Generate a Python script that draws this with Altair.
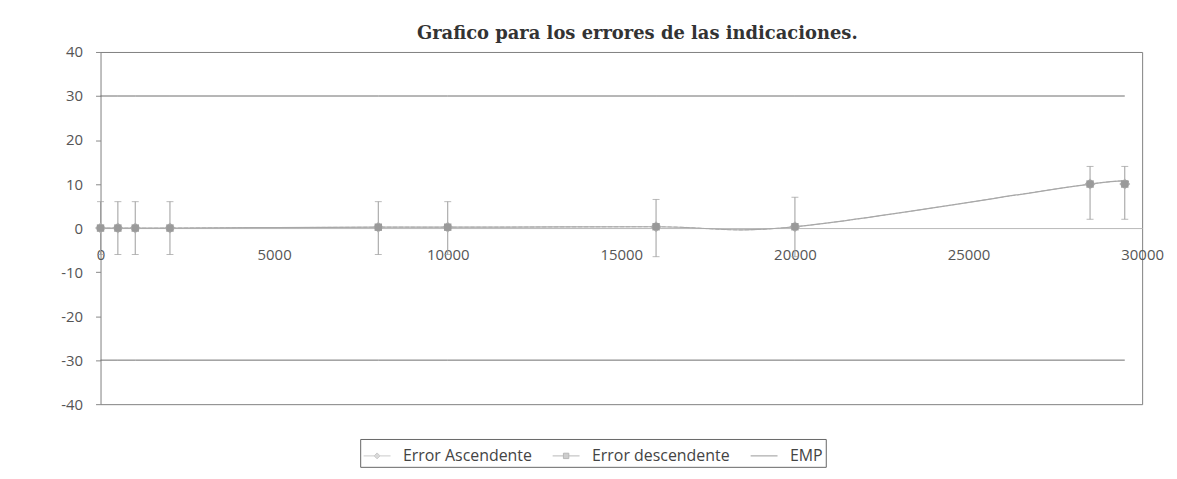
import altair as alt
import pandas as pd

# ---- data ----
loads = [0, 500, 1000, 2000, 8000, 10000, 16000, 20000, 28500, 29500]
err_asc = [0, 0, 0, 0, 0.2, 0.2, 0.3, 0.3, 10, 10]
err_desc = [0, 0, 0, 0, 0.2, 0.2, 0.3, 0.3, 10, 10]
bar_low = [-6, -6, -6, -6, -6, -6, -6.5, -6.5, 2, 2]
bar_high = [6, 6, 6, 6, 6, 6, 6.5, 7, 14, 14]
emp_pos = [30] * len(loads)
emp_neg = [-30] * len(loads)

series_names = ["Error Ascendente", "Error descendente", "EMP"]
series_colors = ["#b4b4b4", "#9a9a9a", "#707070"]
legend_paths = [
    "M-1,0H-0.22M0.22,0H1M0,-0.22L0.22,0L0,0.22L-0.22,0Z",
    "M-1,0H-0.2M0.2,0H1M-0.2,-0.2H0.2V0.2H-0.2Z",
    "M-1,0H1",
]
x_ticks = [0, 5000, 10000, 15000, 20000, 25000, 30000]
y_ticks = [-40, -30, -20, -10, 0, 10, 20, 30, 40]

df = pd.DataFrame({
    "carga": loads, "asc": err_asc, "desc": err_desc,
    "lo": bar_low, "hi": bar_high, "emp_p": emp_pos, "emp_n": emp_neg,
})
legend_df = pd.DataFrame({"serie": series_names})

W, H = 1047, 354
FONT = "Open Sans"

xs = alt.Scale(domain=[0, 30000], nice=False, zero=False)
ys = alt.Scale(domain=[-40, 40], nice=False)

base = alt.Chart(df)

x_enc = alt.X("carga:Q", scale=xs, axis=alt.Axis(
    values=x_ticks, labelExpr="toString(datum.value)", offset=-H / 2,
    ticks=False, domain=True, domainColor="#b8b8b8", labelFlush=False,
    labelPadding=20, labelFontSize=15, labelFont=FONT, labelColor="#555555",
    grid=False, title=None))

emp_p = base.mark_line(color="#6e6e6e", strokeWidth=1).encode(
    x=x_enc,
    y=alt.Y("emp_p:Q", scale=ys, axis=alt.Axis(
        values=y_ticks, labelExpr="toString(datum.value)", tickSize=5,
        tickColor="#888888", domain=False, labelPadding=13,
        labelFontSize=15, labelFont=FONT, labelColor="#555555", grid=False,
        title=None, minExtent=93, maxExtent=93)),
)
emp_n = base.mark_line(color="#6e6e6e", strokeWidth=1).encode(
    x="carga:Q", y="emp_n:Q")

line_asc = base.mark_line(color="#a8a8a8", strokeWidth=1.2,
                          interpolate="cardinal").encode(x="carga:Q", y="asc:Q")
line_desc = base.mark_line(color="#b8b8b8", strokeWidth=1,
                           interpolate="cardinal", strokeDash=[4, 2]).encode(
    x="carga:Q", y="desc:Q")

bars = base.mark_rule(color="#9c9c9c", strokeWidth=1).encode(
    x="carga:Q", y="lo:Q", y2="hi:Q")
cap_lo = base.mark_tick(color="#9c9c9c", orient="horizontal", size=7,
                        thickness=1).encode(x="carga:Q", y="lo:Q")
cap_hi = base.mark_tick(color="#9c9c9c", orient="horizontal", size=7,
                        thickness=1).encode(x="carga:Q", y="hi:Q")

pts_asc = base.mark_point(shape="diamond", filled=True, size=120,
                          color="#b0b0b0", opacity=1).encode(
    x="carga:Q", y="asc:Q")
pts_desc = base.mark_point(shape="square", filled=True, size=55,
                           color="#9a9a9a", opacity=1).encode(
    x="carga:Q", y="desc:Q")

leg_scale_dom = series_names
legend_layer = alt.Chart(legend_df).transform_filter("false").mark_point(
    filled=True, strokeWidth=1).encode(
    fill=alt.Fill("serie:N", scale=alt.Scale(domain=leg_scale_dom,
                                             range=series_colors),
                  legend=alt.Legend(title=None)),
    stroke=alt.Stroke("serie:N", scale=alt.Scale(domain=leg_scale_dom,
                                                 range=series_colors),
                      legend=alt.Legend(title=None)),
    shape=alt.Shape("serie:N", scale=alt.Scale(domain=leg_scale_dom,
                                               range=legend_paths),
                    legend=alt.Legend(title=None)),
)

chart = alt.layer(
    emp_p, emp_n, bars, cap_lo, cap_hi, line_desc, line_asc, pts_asc,
    pts_desc, legend_layer,
).properties(
    width=W, height=H,
    autosize=alt.AutoSizeParams(type="none"),
    padding={"left": 93, "top": 43, "right": 27, "bottom": 70},
    title=alt.TitleParams(
        "Grafico para los errores de las indicaciones.",
        font="DejaVu Serif", fontSize=18, fontWeight="bold",
        color="#333333", anchor="middle", offset=2, dx=16),
).configure_view(
    stroke="#808080", strokeWidth=1,
).configure_legend(
    orient="none", legendX=261, legendY=389, direction="horizontal",
    strokeColor="#666666", padding=3, columnPadding=18, labelOffset=12,
    labelFont=FONT, labelFontSize=16, labelColor="#444444",
    symbolSize=729, symbolStrokeWidth=1,
)

chart.save("out.html", embed_options={"renderer": "svg", "actions": False})
